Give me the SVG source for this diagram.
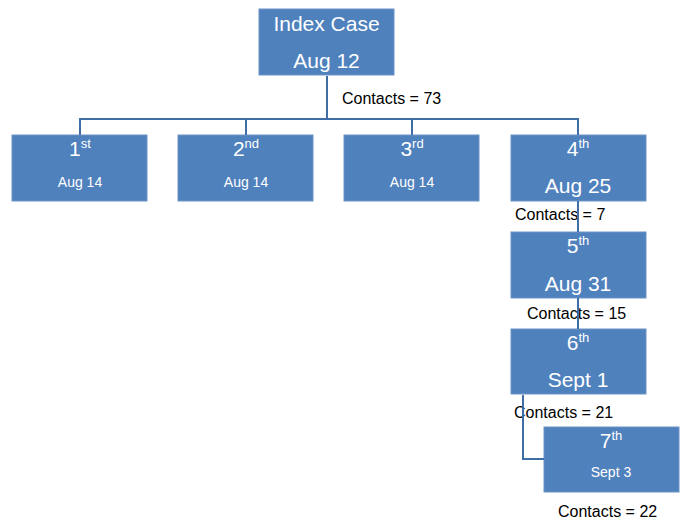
<svg xmlns="http://www.w3.org/2000/svg" width="680" height="521" viewBox="0 0 680 521">
<style>
.box{fill:#4F81BD;stroke:#6f93c6;stroke-width:1}
.t{font-family:"Liberation Sans",Arial,sans-serif;fill:#fff;text-anchor:middle}
.big{font-size:21px}
.sm{font-size:14px}
.sup{font-size:13px}
.lbl{font-family:"Liberation Sans",Arial,sans-serif;font-size:16px;fill:#000}
.con{fill:none;stroke:#3F6EA6;stroke-width:2}
</style>
<rect width="680" height="521" fill="#fff"/>
<g id="index">
<rect class="box" x="259" y="9" width="135" height="66"/>
<text class="t big" x="326.5" y="31">Index Case</text>
<text class="t big" x="326.5" y="68">Aug 12</text>
</g>
<g id="n1">
<rect class="box" x="12" y="135" width="135" height="66"/>
<text class="t big" x="80" y="156">1<tspan class="sup" dy="-8">st</tspan></text>
<text class="t sm" x="80" y="187">Aug 14</text>
</g>
<g id="n2">
<rect class="box" x="178" y="135" width="135" height="66"/>
<text class="t big" x="246" y="156">2<tspan class="sup" dy="-8">nd</tspan></text>
<text class="t sm" x="246" y="187">Aug 14</text>
</g>
<g id="n3">
<rect class="box" x="344" y="135" width="135" height="66"/>
<text class="t big" x="412" y="156">3<tspan class="sup" dy="-8">rd</tspan></text>
<text class="t sm" x="412" y="187">Aug 14</text>
</g>
<g id="n4">
<rect class="box" x="511" y="135" width="135" height="66"/>
<text class="t big" x="578" y="156">4<tspan class="sup" dy="-8">th</tspan></text>
<text class="t big" x="578" y="193">Aug 25</text>
</g>
<g id="n5">
<rect class="box" x="511" y="232" width="135" height="66"/>
<text class="t big" x="578" y="253">5<tspan class="sup" dy="-8">th</tspan></text>
<text class="t big" x="578" y="291">Aug 31</text>
</g>
<g id="n6">
<rect class="box" x="511" y="329" width="135" height="65"/>
<text class="t big" x="578" y="350">6<tspan class="sup" dy="-8">th</tspan></text>
<text class="t big" x="578" y="387">Sept 1</text>
</g>
<g id="n7">
<rect class="box" x="544" y="427" width="135" height="65"/>
<text class="t big" x="611" y="448">7<tspan class="sup" dy="-8">th</tspan></text>
<text class="t sm" x="611" y="477">Sept 3</text>
</g>
<g id="labels">
<text class="lbl" x="342" y="104">Contacts = 73</text>
<text class="lbl" x="515" y="220">Contacts = 7</text>
<text class="lbl" x="527" y="319">Contacts = 15</text>
<text class="lbl" x="514" y="418">Contacts = 21</text>
<text class="lbl" x="558" y="517">Contacts = 22</text>
</g>
<g id="connectors">
<path class="con" d="M327 76V119M80 135V119H578V135M246 119V135M412 119V135"/>
<path class="con" d="M578 201V232"/>
<path class="con" d="M578 298V329"/>
<path class="con" d="M523 395V459H544"/>
</g>
</svg>
